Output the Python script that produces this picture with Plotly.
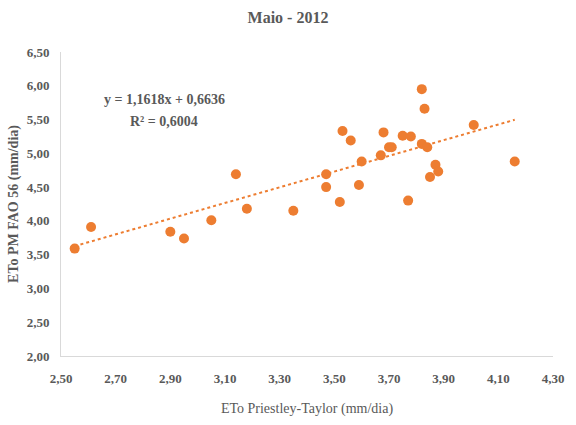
import plotly.graph_objects as go

# Data (ETo Priestley-Taylor vs ETo PM FAO 56, May 2012)
eto_pt = [2.55, 2.61, 2.90, 2.95, 3.05, 3.14, 3.18, 3.35, 3.47, 3.47, 3.52,
          3.53, 3.56, 3.59, 3.60, 3.67, 3.68, 3.70, 3.71, 3.75, 3.77, 3.78,
          3.82, 3.83, 3.82, 3.84, 3.85, 3.87, 3.88, 4.01, 4.16]
eto_pm = [3.59, 3.91, 3.84, 3.74, 4.01, 4.69, 4.18, 4.15, 4.69, 4.50, 4.28,
          5.33, 5.19, 4.53, 4.88, 4.97, 5.31, 5.09, 5.09, 5.26, 4.30, 5.25,
          5.95, 5.66, 5.14, 5.09, 4.65, 4.83, 4.73, 5.42, 4.88]

slope = 1.1618
intercept = 0.6636
r2 = 0.6004

x_ticks = [2.5, 2.7, 2.9, 3.1, 3.3, 3.5, 3.7, 3.9, 4.1, 4.3]
y_ticks = [2.0, 2.5, 3.0, 3.5, 4.0, 4.5, 5.0, 5.5, 6.0, 6.5]

title_text = "Maio - 2012"
x_title = "ETo Priestley-Taylor (mm/dia)"
y_title = "ETo PM FAO 56 (mm/dia)"
eq_line1 = "y = 1,1618x + 0,6636"
eq_line2 = "R² = 0,6004"

orange = "#ED7D31"
gray = "#595959"
font_family = "Liberation Serif, Times New Roman, serif"

xmin, xmax = min(eto_pt), max(eto_pt)
trend_x = [xmin, xmax]
trend_y = [slope * v + intercept for v in trend_x]

fig = go.Figure()
fig.add_trace(go.Scatter(
    x=trend_x, y=trend_y, mode="lines",
    line=dict(color=orange, width=2, dash="dot"),
    hoverinfo="skip", showlegend=False))
fig.add_trace(go.Scatter(
    x=eto_pt, y=eto_pm, mode="markers",
    marker=dict(color=orange, size=10, line=dict(width=0)),
    showlegend=False))

eq_font = dict(family=font_family, size=14, color=gray, weight="bold")
fig.add_annotation(x=0.21, y=0.845, xref="paper", yref="paper", text=eq_line1,
                   showarrow=False, font=eq_font, xanchor="center", yanchor="middle")
fig.add_annotation(x=0.21, y=0.773, xref="paper", yref="paper", text=eq_line2,
                   showarrow=False, font=eq_font, xanchor="center", yanchor="middle")

fig.update_layout(
    width=576, height=425,
    margin=dict(l=61, r=16, t=52, b=68),
    paper_bgcolor="white", plot_bgcolor="white",
    separators=",.",
    title=dict(text=title_text, x=0.5, xanchor="center", y=0.958, yanchor="middle",
               font=dict(family=font_family, size=16, color=gray, weight="bold")),
    xaxis=dict(
        range=[2.5, 4.3], tickvals=x_ticks, tickformat=".2f",
        showgrid=False, zeroline=False,
        showline=True, linecolor="#D9D9D9", linewidth=1,
        ticks="", ticklabelstandoff=10,
        tickfont=dict(family=font_family, size=13, color=gray, weight="bold"),
        title=dict(text=x_title, standoff=18,
                   font=dict(family=font_family, size=14, color=gray))),
    yaxis=dict(
        range=[2.0, 6.5], tickvals=y_ticks, tickformat=".2f",
        showgrid=False, zeroline=False,
        showline=True, linecolor="#D9D9D9", linewidth=1,
        ticks="", ticklabelstandoff=8,
        tickfont=dict(family=font_family, size=13, color=gray, weight="bold"),
        title=dict(text=y_title, standoff=4,
                   font=dict(family=font_family, size=14, color=gray, weight="bold"))),
)

fig.write_html("out.html")
